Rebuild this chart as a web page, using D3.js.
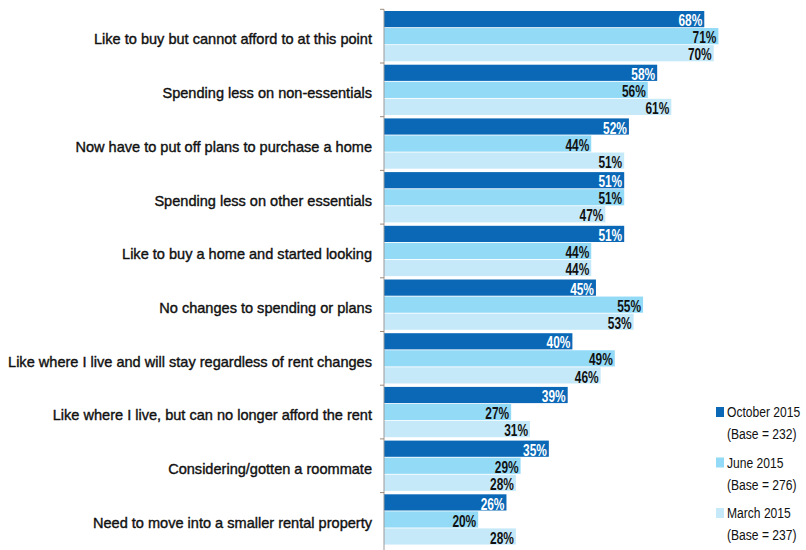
<!DOCTYPE html>
<html><head><meta charset="utf-8">
<script src="https://cdn.jsdelivr.net/npm/d3@7"></script>
<style>
html,body{margin:0;padding:0;background:#fff;}
svg{display:block;}
</style>
</head><body>
<svg id="chart" width="806" height="550"></svg>
<script>
const categories = [
  "Like to buy but cannot afford to at this point",
  "Spending less on non-essentials",
  "Now have to put off plans to purchase a home",
  "Spending less on other essentials",
  "Like to buy a home and started looking",
  "No changes to spending or plans",
  "Like where I live and will stay regardless of rent changes",
  "Like where I live, but can no longer afford the rent",
  "Considering/gotten a roommate",
  "Need to move into a smaller rental property"
];
const seriesNames = ["October 2015", "June 2015", "March 2015"];
const seriesBases = ["(Base = 232)", "(Base = 276)", "(Base = 237)"];
const october2015 = [68, 58, 52, 51, 51, 45, 40, 39, 35, 26];
const june2015    = [71, 56, 44, 51, 44, 55, 49, 27, 29, 20];
const march2015   = [70, 61, 51, 47, 44, 53, 46, 31, 28, 28];
const seriesValues = [october2015, june2015, march2015];
const colors = ["#0a68b6", "#93daf7", "#c6e9f9"];
const labelColors = ["#ffffff", "#111111", "#111111"];

const svg = d3.select("#chart");
const W = 806, H = 550;

const x = d3.scaleLinear().domain([0, 80]).range([384, 384 + 4.71 * 80]);
const y = d3.scaleBand().domain(categories).range([9.3, 546.3]).paddingInner(0).paddingOuter(0);
const yInner = d3.scaleBand().domain(seriesNames).range([0, y.bandwidth()]).paddingInner(0.05).paddingOuter(0.1);

function squeeze(sel, factor) {
  sel.each(function() {
    const w = this.getComputedTextLength();
    d3.select(this).attr("textLength", w * factor).attr("lengthAdjust", "spacingAndGlyphs");
  });
}

const rows = categories.map((c, i) => ({cat: c, vals: seriesValues.map((s, k) => ({name: seriesNames[k], k, v: s[i]}))}));
const g = svg.append("g");
const grp = g.selectAll("g.cat").data(rows).join("g").attr("class", "cat")
  .attr("transform", d => `translate(0,${y(d.cat)})`);
grp.selectAll("rect").data(d => d.vals).join("rect")
  .attr("x", x(0))
  .attr("y", d => yInner(d.name))
  .attr("width", d => x(d.v) - x(0))
  .attr("height", yInner.bandwidth())
  .attr("fill", d => colors[d.k]);

const vl = grp.selectAll("text.val").data(d => d.vals).join("text").attr("class", "val")
  .attr("x", d => x(d.v) - 2)
  .attr("y", d => yInner(d.name) + yInner.bandwidth() / 2 + 1)
  .attr("dy", "0.36em")
  .attr("text-anchor", "end")
  .attr("font-family", "'Liberation Sans', Arial, sans-serif")
  .attr("font-weight", "bold")
  .attr("font-size", 17)
  .attr("fill", d => labelColors[d.k])
  .text(d => d.v + "%");
squeeze(vl, 0.70);

const yAxis = d3.axisLeft(y).tickSize(0).tickFormat("");
const ax = svg.append("g").attr("transform", `translate(${x(0)},0)`).call(yAxis);
ax.select(".domain").attr("stroke", "#9a9a9a").attr("d", `M0,${y.range()[0]}V${H}`);
ax.selectAll("line.bt").data(categories).join("line").attr("class", "bt")
  .attr("x1", -4).attr("x2", 0)
  .attr("y1", d => y(d)).attr("y2", d => y(d))
  .attr("stroke", "#a08a7a");

const cl = svg.append("g").selectAll("text").data(categories).join("text")
  .attr("x", 372)
  .attr("y", d => y(d) + y.bandwidth() / 2 + 3)
  .attr("dy", "0.35em")
  .attr("text-anchor", "end")
  .attr("font-family", "'Liberation Sans', Arial, sans-serif")
  .attr("font-size", 15)
  .attr("fill", "#111")
  .attr("stroke", "#111").attr("stroke-width", 0.4)
  .text(d => d);
squeeze(cl, 0.97);

const leg = svg.append("g").attr("transform", "translate(716,412)");
const li = leg.selectAll("g").data(seriesNames).join("g")
  .attr("transform", (d, i) => `translate(0,${i * 50.5})`);
li.append("rect").attr("x", 0).attr("y", -5).attr("width", 8).attr("height", 10)
  .attr("fill", (d, i) => colors[i]);
const lg = li.append("g").attr("transform", "translate(11,0) scale(0.78,1)");
lg.append("text").attr("x", 0).attr("y", 0).attr("dy", "0.35em")
  .attr("font-family", "'Liberation Sans', Arial, sans-serif").attr("font-size", 15.5).attr("fill", "#111")
  .text(d => d);
lg.append("text").attr("x", 0).attr("y", 22).attr("dy", "0.35em")
  .attr("font-family", "'Liberation Sans', Arial, sans-serif").attr("font-size", 15.5).attr("fill", "#111")
  .text((d, i) => seriesBases[i]);
</script>
</body></html>
